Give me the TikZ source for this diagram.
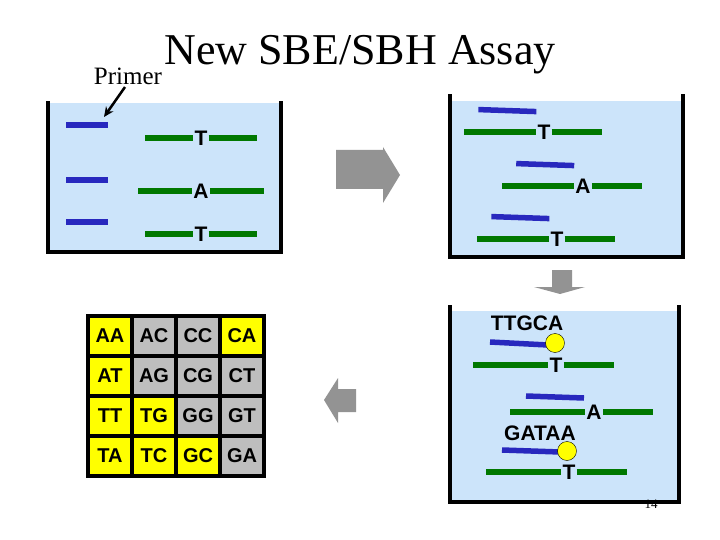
\documentclass[tikz,border=0pt]{standalone}
\usepackage{fontspec}
\setmainfont{Liberation Serif}
\newfontfamily\labelfont{Liberation Sans}
\usetikzlibrary{positioning, calc, arrows.meta}

\definecolor{wellblue}{RGB}{204,228,250}
\definecolor{strandgreen}{RGB}{0,120,0}
\definecolor{primerblue}{RGB}{40,40,190}
\definecolor{G}{RGB}{190,190,190}
\definecolor{Y}{RGB}{255,255,0}

\begin{document}
\begin{tikzpicture}[
    x=1pt, y=-1pt,
    well/.style={fill=wellblue},
    wall/.style={line width=3.5pt, line cap=rect},
    base/.style={font=\labelfont\bfseries\fontsize{21}{21}\selectfont, inner sep=1pt},
    strand/.style={strandgreen, line width=5.5pt},
    primer/.style={primerblue, line width=5.5pt},
    dot/.style={circle, draw=black, fill=Y, minimum size=19pt, inner sep=0pt},
    cell/.style={rectangle, draw=black, line width=3.5pt, minimum width=44pt, minimum height=40pt, font=\labelfont\bfseries\fontsize{20}{20}\selectfont},
    bigarrow/.style={fill=gray!85, draw=none}
]
    \useasboundingbox (0,0) rectangle (720,540);

    % title
    \node[font=\fontsize{44}{44}\selectfont] (title) at (360,55) {New SBE/SBH Assay};
    \node[font=\fontsize{25}{25}\selectfont] (primerlbl) at (128,76) {Primer};

    % well 1: primers and templates apart
    \fill[well] (48,103) rectangle (281,252);
    \draw[wall] (48,103) -- (48,252) -- (281,252) -- (281,103);
    \node[base] (a1) at (201,138) {T};
    \node[base] (a2) at (201,191) {A};
    \node[base] (a3) at (201,234) {T};
    \foreach \n/\l in {a1/48, a2/54, a3/48} {
        \draw[strand] ($(\n.west)+(-\l,0)$) -- (\n.west);
        \draw[strand] (\n.east) -- ($(\n.east)+(\l,0)$);
    }
    \foreach \i/\y in {1/125, 2/180, 3/222}
        \draw[primer] (66,\y) -- (108,\y);
    \coordinate (p1) at (104,117);
    \draw[line width=2.5pt, -{Stealth[length=10pt,width=9pt]}] (125,87) -- (p1);

    % well 2: primers hybridised
    \fill[well] (450,101) rectangle (683,257);
    \draw[wall] (450,96) -- (450,257) -- (683,257) -- (683,96);
    \node[base] (b1) at (544,132) {T};
    \node[base] (b2) at (583,186) {A};
    \node[base] (b3) at (557,239) {T};
    \foreach \n in {b1, b2, b3} {
        \draw[strand] ($(\n.west)+(-72,0)$) -- (\n.west);
        \draw[strand] (\n.east) -- ($(\n.east)+(50,0)$);
        \draw[primer] ($(\n.north west)+(-58,-14)$) -- ($(\n.north west)+(0,-12)$);
    }

    % well 3: extended primers
    \fill[well] (450,311) rectangle (679,502);
    \draw[wall] (450,307) -- (450,502) -- (679,502) -- (679,307);
    \node[base] (c1) at (556,365) {T};
    \node[base] (c2) at (594,412) {A};
    \node[base] (c3) at (569,472) {T};
    \foreach \n in {c1, c2, c3} {
        \draw[strand] ($(\n.west)+(-75,0)$) -- (\n.west);
        \draw[strand] (\n.east) -- ($(\n.east)+(50,0)$);
    }
    \draw[primer] (490,342) -- (548,345);
    \draw[primer] (526,396) -- (584,398);
    \draw[primer] (502,450) -- (560,452);
    \node[dot] (d1) at (555,343) {};
    \node[dot] (d3) at (567,451) {};
    \node[base] (s1) at (527,323) {TTGCA};
    \node[base] (s3) at (540,433) {GATAA};

    % sequence grid
    \foreach \r/\row in {0/{AA/Y,AC/G,CC/G,CA/Y}, 1/{AT/Y,AG/G,CG/G,CT/G},
                         2/{TT/Y,TG/Y,GG/G,GT/G}, 3/{TA/Y,TC/Y,GC/Y,GA/G}} {
        \foreach \t/\c [count=\k from 0] in \row
            \node[cell, fill=\c] (g\r\k) at (110+44*\k, 336+40*\r) {\t};
    }

    % process arrows
    \fill[bigarrow] (336,150) -- (383,150) -- (383,147) -- (400,175) -- (383,203)
        -- (383,189) -- (336,189) -- cycle;
    \fill[bigarrow] (552,270) -- (572,270) -- (572,287) -- (585,287) -- (560,294)
        -- (534,287) -- (552,287) -- cycle;
    \fill[bigarrow] (356,389) -- (338,389) -- (338,378) -- (324,400) -- (338,423)
        -- (338,412) -- (356,412) -- cycle;

    \node[font=\fontsize{13}{13}\selectfont, inner sep=0pt] (page) at (651,504) {14};
\end{tikzpicture}
\end{document}
